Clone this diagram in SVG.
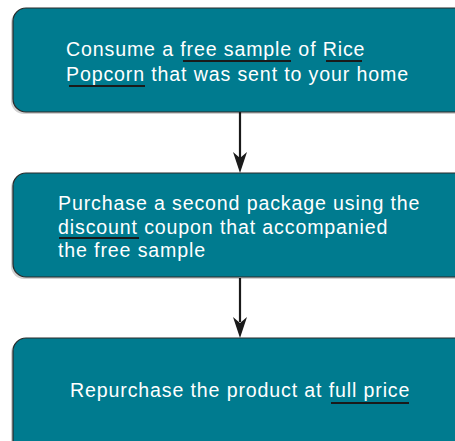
<svg xmlns="http://www.w3.org/2000/svg" width="455" height="441" viewBox="0 0 455 441">
<defs>
<style>
.box{fill:#007B8F;stroke:#2a2a2a;stroke-width:1.2}
.sh{fill:#000;opacity:0.18}
.t{font-family:"Liberation Sans",Arial,Helvetica,sans-serif;font-size:19.6px;letter-spacing:0.86px;fill:#ffffff}
.u{stroke:#1a1a1a;stroke-width:2}
.c{stroke:#1a1a1a;stroke-width:2.2;fill:none}
</style>
</defs>
<rect width="455" height="441" fill="#ffffff"/>
<g id="connectors">
<line class="c" x1="240" y1="112" x2="240" y2="158"/>
<path d="M233,152 L240,158 L247,152 L240,173 Z" fill="#1a1a1a"/>
<line class="c" x1="240" y1="278" x2="240" y2="322"/>
<path d="M233,317 L240,323 L247,317 L240,338 Z" fill="#1a1a1a"/>
</g>
<g id="node1">
<rect class="sh" x="11" y="10" width="460" height="104" rx="13"/>
<rect class="box" x="13" y="8" width="460" height="104" rx="13"/>
<text class="t" x="66" y="56">Consume a free sample of Rice</text>
<text class="t" x="66" y="80.5">Popcorn that was sent to your home</text>
<line class="u" x1="183" y1="61" x2="291" y2="61"/>
<line class="u" x1="326" y1="61" x2="362" y2="61"/>
<line class="u" x1="69" y1="86" x2="145" y2="86"/>
</g>
<g id="node2">
<rect class="sh" x="11" y="175" width="460" height="104" rx="13"/>
<rect class="box" x="13" y="173" width="460" height="104" rx="13"/>
<text class="t" x="58" y="210">Purchase a second package using the</text>
<text class="t" x="58" y="233.5">discount coupon that accompanied</text>
<text class="t" x="58" y="257">the free sample</text>
<line class="u" x1="59" y1="238" x2="139" y2="238"/>
</g>
<g id="node3">
<rect class="sh" x="11" y="340" width="460" height="120" rx="13"/>
<rect class="box" x="13" y="338" width="460" height="120" rx="13"/>
<text class="t" x="70" y="397">Repurchase the product at full price</text>
<line class="u" x1="331" y1="403" x2="409" y2="403"/>
</g>
</svg>
